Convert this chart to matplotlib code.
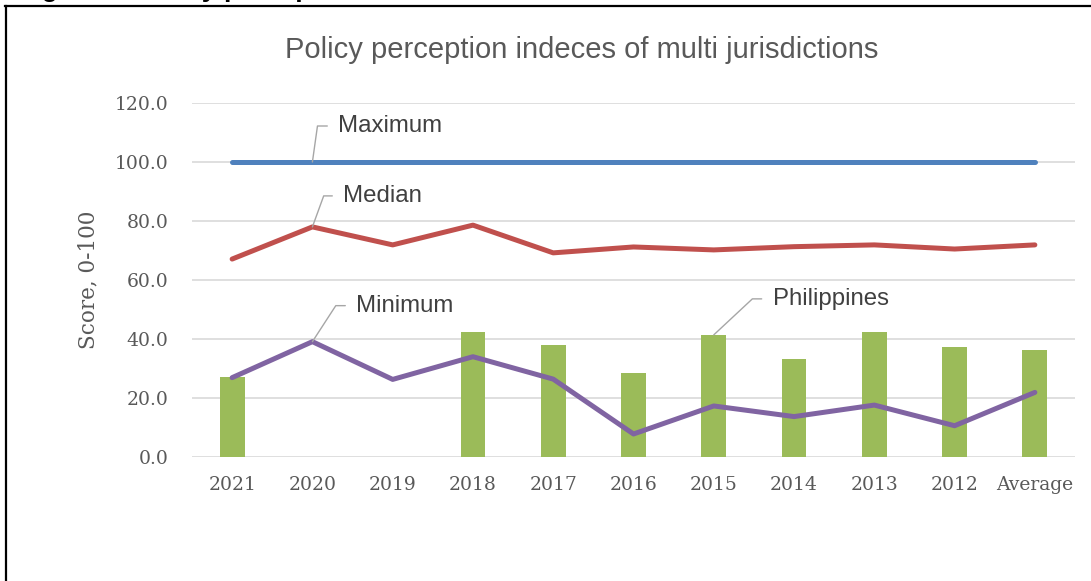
import numpy as np
import matplotlib.pyplot as plt
from matplotlib.lines import Line2D

# data
categories = ['2021', '2020', '2019', '2018', '2017', '2016', '2015',
              '2014', '2013', '2012', 'Average']
maximum = [100, 100, 100, 100, 100, 100, 100, 100, 100, 100, 100]
median = [67.1, 78.0, 71.9, 78.6, 69.2, 71.2, 70.2, 71.3, 71.9, 70.5, 71.9]
minimum = [26.9, 39.1, 26.3, 34.0, 26.4, 7.8, 17.3, 13.7, 17.6, 10.6, 21.9]
philippines = [27.1, np.nan, np.nan, 42.4, 38.0, 28.5, 41.4, 33.3, 42.3, 37.2, 36.2]

W, H = 1091, 581
fig = plt.figure(figsize=(W / 100, H / 100), dpi=100)
ax = fig.add_axes([192 / W, 1 - 457 / H, (1075 - 192) / W, (457 - 103) / H])

x = np.arange(len(categories))
grey_txt = '#595959'

ax.bar(x, philippines, width=0.31, color='#9BBB59', zorder=2)
ax.plot(x, maximum, color='#4F81BD', lw=3.6, solid_capstyle='round', zorder=3)
ax.plot(x, median, color='#C0504D', lw=3.6, solid_capstyle='round', zorder=3)
ax.plot(x, minimum, color='#8064A2', lw=3.6, solid_capstyle='round', zorder=3)

ax.set_xlim(-0.5, len(categories) - 0.5)
ax.set_ylim(0, 120)
ax.set_yticks(np.arange(0, 121, 20))
ax.set_yticklabels([f'{v:.1f}' for v in np.arange(0, 121, 20)])
ax.set_xticks(x)
ax.set_xticklabels(categories)
ax.grid(axis='y', color='#D9D9D9', lw=1.2, zorder=0)
ax.set_axisbelow(True)
for s in ax.spines.values():
    s.set_visible(False)
ax.tick_params(axis='both', length=0, labelsize=13.5, labelcolor=grey_txt)
ax.tick_params(axis='y', pad=17)
ax.tick_params(axis='x', pad=14)
for lab in ax.get_xticklabels() + ax.get_yticklabels():
    lab.set_family('DejaVu Serif')
ax.set_ylabel('Score, 0-100', family='DejaVu Serif', fontsize=15.5, color=grey_txt,
              labelpad=11)

# data labels with leader lines
labels = [
    ('Maximum', 1, maximum[1], (26, 36), 82),
    ('Median', 1, median[1], (31, 31), 70),
    ('Minimum', 1, minimum[1], (44, 36), 57),
    ('Philippines', 6, philippines[6], (59, 36), 43),
]
for txt, xi, yi, off, ang in labels:
    ax.annotate(txt, xy=(xi, yi), xytext=off, textcoords='offset pixels',
                ha='left', va='center', fontsize=17.3, color='#404040',
                family='Liberation Sans', zorder=5,
                arrowprops=dict(arrowstyle='-', color='#A6A6A6', lw=1,
                                shrinkA=6, shrinkB=0, relpos=(0, 0.5),
                                connectionstyle=f'angle,angleA=0,angleB={ang},rad=0'))

fig.text(582 / W, 1 - 50 / H, 'Policy perception indeces of multi jurisdictions',
         ha='center', va='center', fontsize=21, color=grey_txt,
         family='Liberation Sans')

# chart border and clipped caption above it
fig.add_artist(Line2D([5 / W, 1], [1 - 6 / H, 1 - 6 / H], color='black', lw=1.6))
fig.add_artist(Line2D([6 / W, 6 / W], [0, 1 - 6 / H], color='black', lw=1.6))
fig.text(18 / W, 1 + 4.5 / H, 'Figure 6: Policy perception indices', ha='left',
         va='baseline', fontsize=19.3, fontweight='bold', family='Liberation Sans')

fig.savefig('out.png', dpi=100)
